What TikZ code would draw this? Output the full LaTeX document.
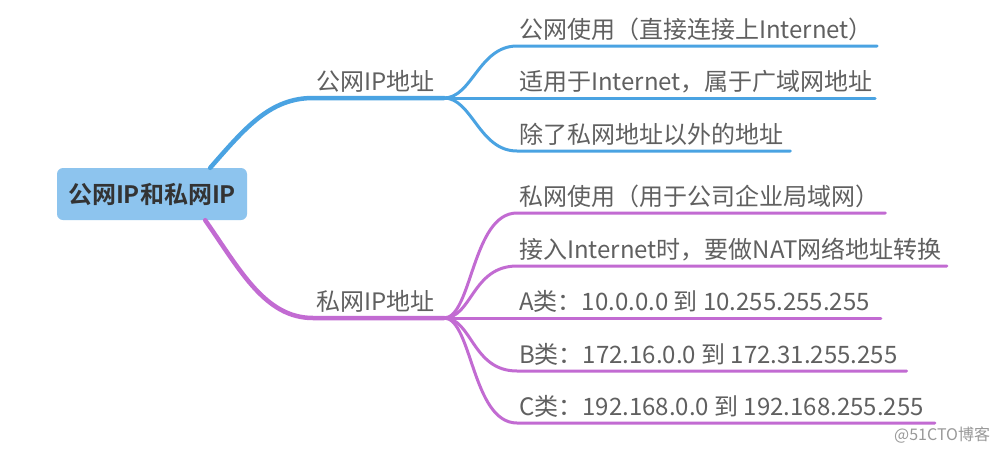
\documentclass[tikz,border=0pt]{standalone}
\usepackage{fontspec}
\setmainfont{Noto Sans CJK SC}[BoldFont={Noto Sans CJK SC Bold}]
\usepackage{tikz}
\usetikzlibrary{calc}
\usetikzlibrary{positioning}

\definecolor{pubblue}{HTML}{4AA3E2}
\definecolor{rootfill}{HTML}{8DC4EE}
\definecolor{privpurple}{HTML}{C26BD2}
\definecolor{textgray}{HTML}{606060}
\definecolor{rootgray}{HTML}{333333}

\tikzset{
    root/.style={rectangle, rounded corners=6pt, fill=rootfill, minimum width=190pt, minimum height=52pt, inner sep=0pt, text=rootgray, font=\fontsize{24}{28}\selectfont\bfseries},
    leaf/.style={anchor=base west, inner sep=0pt, text=textgray, font=\fontsize{24}{28}\selectfont},
    mainline/.style={line width=4.5pt, line cap=round},
    leafline/.style={line width=3pt, line cap=round}
}

\begin{document}
\begin{tikzpicture}[x=1pt, y=-1pt]
        \useasboundingbox[fill=white] (0,0) rectangle (1002,453);

        \node[root] (root) at (152,194) {公网IP和私网IP};

        % public branch
        \node[leaf] (pub) at (316,90) {公网IP地址};
        \coordinate (pubhub) at (444,98);
        \draw[mainline, pubblue] ($(root.north east)+(-37,0)$) .. controls +(35,-40) and +(-43,0) .. ($(pub.base west)+(-3,8)$) -- (pubhub);

        \node[leaf] (pub1) at (519,38) {公网使用（直接连接上Internet）};
        \node[leaf] (pub2) at (519,90) {适用于Internet，属于广域网地址};
        \node[leaf] (pub3) at (519,143) {除了私网地址以外的地址};

        \draw[leafline, pubblue] (pubhub) .. controls +(28,0) and +(-38,0) .. ($(pub1.base west)+(-2,8)$) -- ($(pub1.base east)+(4,8)$);
        \draw[leafline, pubblue] (pubhub) -- ($(pub2.base east)+(2,8)$);
        \draw[leafline, pubblue] (pubhub) .. controls +(28,0) and +(-38,0) .. ($(pub3.base west)+(-2,8)$) -- ($(pub3.base east)+(7,8)$);

        % private branch
        \node[leaf] (priv) at (316,310) {私网IP地址};
        \coordinate (privhub) at (444,318);
        \draw[mainline, privpurple] ($(root.south east)+(-42,0)$) .. controls +(35,50) and +(-48,0) .. ($(priv.base west)+(-3,8)$) -- (privhub);

        \node[leaf] (priv1) at (519,205) {私网使用（用于公司企业局域网）};
        \node[leaf] (priv2) at (519,258) {接入Internet时，要做NAT网络地址转换};
        \node[leaf] (priv3) at (519,310) {A类：10.0.0.0 到 10.255.255.255};
        \node[leaf] (priv4) at (519,363) {B类：172.16.0.0 到 172.31.255.255};
        \node[leaf] (priv5) at (519,415) {C类：192.168.0.0 到 192.168.255.255};

        \draw[leafline, privpurple] (privhub) .. controls +(28,0) and +(-45,0) .. ($(priv1.base west)+(-2,8)$) -- ($(priv1.base east)+(6,8)$);
        \draw[leafline, privpurple] (privhub) .. controls +(28,0) and +(-45,0) .. ($(priv2.base west)+(-2,8)$) -- ($(priv2.base east)+(5,8)$);
        \draw[leafline, privpurple] (privhub) -- ($(priv3.base east)+(11,8)$);
        \draw[leafline, privpurple] (privhub) .. controls +(28,0) and +(-45,0) .. ($(priv4.base west)+(-2,8)$) -- ($(priv4.base east)+(9,8)$);
        \draw[leafline, privpurple] (privhub) .. controls +(28,0) and +(-45,0) .. ($(priv5.base west)+(-2,8)$) -- ($(priv5.base east)+(11,8)$);

        \node[anchor=west, inner sep=0pt, text=gray!80, font=\fontsize{16}{18}\selectfont] (mark) at (894,435) {@51CTO博客};
    \end{tikzpicture}
\end{document}
